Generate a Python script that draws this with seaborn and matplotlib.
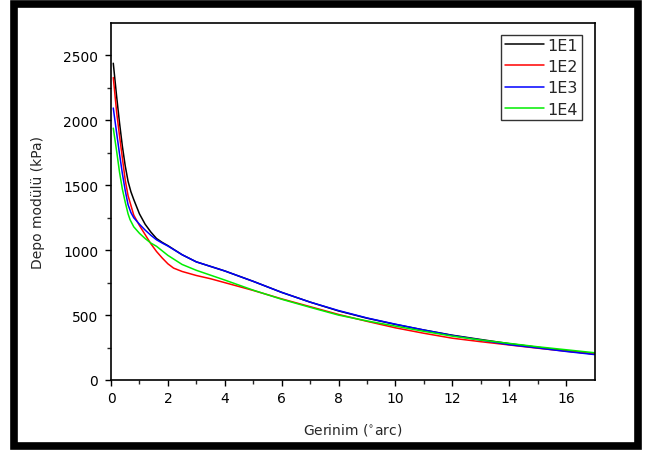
import numpy as np
import pandas as pd
import matplotlib
matplotlib.use("Agg")
import matplotlib.pyplot as plt
from matplotlib.patches import Rectangle
import seaborn as sns

# ---- data ----
x_1e1 = [0.08, 0.2, 0.3, 0.4, 0.5, 0.6, 0.7, 0.8, 1.0, 1.2, 1.4, 1.6, 1.8, 2.0, 2.5, 3.0, 4.0,
         5.0, 6.0, 7.0, 8.0, 9.0, 10.0, 11.0, 12.0, 13.0, 14.0, 15.0, 16.0, 17.0]
y_1e1 = [2440, 2180, 1980, 1800, 1650, 1530, 1450, 1390, 1280, 1200, 1140, 1090, 1060, 1035, 965, 910, 840,
         760, 675, 600, 532, 476, 428, 385, 345, 312, 280, 252, 225, 200]

x_1e2 = [0.08, 0.2, 0.3, 0.4, 0.5, 0.6, 0.8, 1.0, 1.2, 1.4, 1.6, 1.8, 2.0, 2.2, 2.5, 3.0, 3.5, 4.0,
         5.0, 6.0, 7.0, 8.0, 9.0, 10.0, 11.0, 12.0, 13.0, 14.0, 15.0, 16.0, 17.0]
y_1e2 = [2330, 2060, 1880, 1710, 1540, 1420, 1270, 1190, 1120, 1050, 990, 940, 895, 862, 836, 805, 780, 750,
         690, 625, 565, 505, 452, 402, 360, 322, 295, 270, 245, 222, 200]

x_1e3 = [0.08, 0.2, 0.3, 0.4, 0.5, 0.6, 0.7, 0.8, 1.0, 1.2, 1.4, 1.6, 1.8, 2.0, 2.5, 3.0, 4.0,
         5.0, 6.0, 7.0, 8.0, 9.0, 10.0, 11.0, 12.0, 13.0, 14.0, 15.0, 16.0, 17.0]
y_1e3 = [2095, 1900, 1740, 1590, 1460, 1350, 1290, 1250, 1200, 1155, 1115, 1080, 1055, 1032, 965, 910, 840,
         760, 675, 600, 535, 478, 430, 385, 343, 308, 272, 247, 220, 196]

x_1e4 = [0.08, 0.2, 0.3, 0.4, 0.5, 0.6, 0.67, 0.8, 1.0, 1.2, 1.4, 1.6, 2.0, 2.5, 3.0, 4.0,
         5.0, 6.0, 7.0, 8.0, 9.0, 10.0, 11.0, 12.0, 13.0, 14.0, 15.0, 16.0, 17.0]
y_1e4 = [1940, 1760, 1600, 1470, 1370, 1280, 1235, 1180, 1130, 1090, 1055, 1030, 960, 890, 845, 770,
         692, 622, 560, 500, 455, 415, 375, 338, 308, 282, 256, 233, 210]

series_names = ["1E1", "1E2", "1E3", "1E4"]
series_colors = ["#000000", "#ff0000", "#0000ff", "#00ee00"]
x_ticks = [0, 2, 4, 6, 8, 10, 12, 14, 16]
y_ticks = [0, 500, 1000, 1500, 2000, 2500]

frames = []
for name, xs, ys in zip(series_names, [x_1e1, x_1e2, x_1e3, x_1e4], [y_1e1, y_1e2, y_1e3, y_1e4]):
    frames.append(pd.DataFrame({"x": xs, "y": ys, "series": name}))
df = pd.concat(frames, ignore_index=True)

sns.set_style("ticks")
plt.rcParams["font.family"] = ["DejaVu Sans"]

W, H = 645, 452
fig = plt.figure(figsize=(W / 100, H / 100), dpi=100)
ax = fig.add_axes([111 / W, 1 - 381 / H, (594.5 - 111) / W, (381 - 24) / H])

for name, col in zip(series_names, series_colors):
    sub = df[df["series"] == name]
    sns.lineplot(data=sub, x="x", y="y", color=col, linewidth=1.1, ax=ax,
                 label=name, estimator=None, sort=False)

ax.set_xlim(0, 17)
ax.set_ylim(0, 2750)
ax.set_xticks(x_ticks)
ax.set_xticks(np.arange(1, 17, 2), minor=True)
ax.set_yticks(y_ticks)
ax.set_yticks(np.arange(250, 2750, 500), minor=True)
ax.tick_params(axis="both", which="major", direction="out", length=4.2, width=1.0,
               labelsize=10, colors="black")
ax.tick_params(axis="x", which="major", pad=3.6)
ax.tick_params(axis="y", which="major", pad=5)
ax.tick_params(axis="both", which="minor", direction="out", length=3, width=1.0)
ax.tick_params(top=False, right=False)
for s in ax.spines.values():
    s.set_visible(True)
    s.set_linewidth(1.2)
    s.set_color("black")

ax.set_xlabel("Gerinim ($^{\\circ}$arc)", fontsize=10, labelpad=12)
ax.set_ylabel("Depo modülü (kPa)", fontsize=10, labelpad=13)

leg = ax.legend(loc="upper right", bbox_to_anchor=(581.5 / W, 1 - 35.5 / H),
                bbox_transform=fig.transFigure, fontsize=11.5, frameon=True,
                fancybox=False, handlelength=2.5, handletextpad=0.2,
                borderpad=0.2, labelspacing=0.4, borderaxespad=0)
leg.get_frame().set_edgecolor("black")
leg.get_frame().set_linewidth(1.0)

# outer thick frame of the figure
fig.patches.append(Rectangle((14 / W, 1 - 447 / H), (638 - 14) / W, (447 - 5) / H,
                             transform=fig.transFigure, fill=False,
                             edgecolor="black", linewidth=5.5, zorder=10))

fig.savefig("out.png", dpi=100, facecolor="white")
